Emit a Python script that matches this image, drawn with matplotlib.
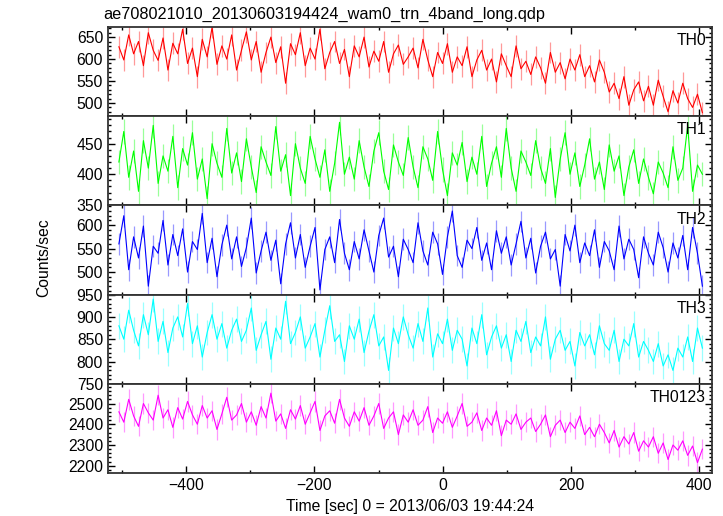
import numpy as np
import matplotlib
matplotlib.use("Agg")
import matplotlib.pyplot as plt
from matplotlib.ticker import MultipleLocator

plt.rcParams['font.family'] = ['Liberation Sans', 'DejaVu Sans']

# time bins (sec), 120 bins from -505 to 405
t = np.linspace(-505, 405, 120)

th0 = [628, 598, 655, 612, 640, 585, 660, 620, 597, 648, 575, 636,
       612, 668, 590, 625, 560, 645, 605, 672, 588, 630, 600, 655,
       575, 620, 662, 598, 640, 570, 615, 650, 592, 628, 545, 635,
       610, 660, 585, 625, 600, 668, 578, 615, 640, 590, 622, 560,
       630, 605, 650, 582, 618, 595, 640, 570, 612, 632, 588, 605,
       625, 580, 645, 598, 560, 615, 590, 635, 570, 605, 585, 628,
       560, 598, 620, 575, 600, 548, 612, 585, 560, 630, 578, 595,
       565, 605, 580, 545, 615, 570, 592, 555, 600, 575, 610, 560,
       585, 548, 598, 570, 525, 545, 510, 560, 495, 530, 548, 505,
       538, 495, 552, 515, 480, 528, 500, 545, 510, 490, 520, 478]

th1 = [420, 470, 395, 438, 372, 455, 410, 480, 385, 430, 405, 462,
       378, 442, 415, 468, 392, 425, 360, 450, 418, 395, 475, 402,
       435, 388, 458, 412, 370, 445, 420, 398, 478, 405, 432, 365,
       450, 410, 385, 462, 425, 395, 440, 372, 418, 485, 400, 428,
       392, 455, 412, 380, 438, 468, 405, 375, 448, 420, 398, 460,
       412, 378, 445, 425, 390, 470, 408, 365, 435, 415, 452, 388,
       428, 400, 462, 380, 418, 445, 395, 475, 410, 372, 438, 420,
       398, 455, 410, 385, 442, 362, 425, 468, 400, 435, 380, 415,
       458, 392, 420, 375, 448, 405, 430, 365, 412, 440, 385, 425,
       395, 368, 420, 402, 378, 445, 390, 410, 480, 372, 415, 400]

th2 = [560, 620, 505, 575, 530, 598, 470, 555, 540, 610, 515, 580,
       535, 592, 500, 565, 548, 625, 520, 572, 490, 558, 600, 528,
       575, 512, 552, 615, 498, 545, 585, 525, 568, 475, 560, 605,
       530, 580, 510, 555, 595, 462, 548, 575, 520, 612, 540, 505,
       565, 528, 590, 545, 500, 578, 615, 532, 555, 490, 570, 548,
       520, 605, 545, 515, 585, 560, 495, 575, 630, 535, 510, 568,
       550, 595, 525, 562, 505, 588, 540, 575, 515, 560, 608, 530,
       572, 498, 555, 585, 528, 548, 470, 580, 545, 600, 520, 562,
       535, 590, 510, 565, 545, 505, 598, 528, 570, 548, 488, 575,
       540, 515, 585, 552, 500, 562, 530, 578, 505, 595, 540, 470]

th3 = [880, 850, 915, 870, 835, 905, 860, 940, 845, 890, 820, 875,
       900, 855, 930, 840, 880, 810, 865, 905, 850, 885, 830, 870,
       895, 845, 870, 920, 825, 860, 890, 805, 875, 850, 935, 840,
       865, 900, 830, 855, 885, 810, 870, 925, 845, 860, 800, 880,
       850, 895, 820, 868, 905, 835, 855, 780, 875, 840, 900, 860,
       830, 885, 845, 920, 810, 862, 840, 895, 825, 870, 850, 790,
       875, 840, 905, 815, 855, 880, 830, 860, 800, 870, 845, 890,
       820, 855, 835, 900, 805, 850, 870, 825, 845, 790, 865, 835,
       860, 815, 880, 840, 825, 870, 800, 850, 835, 885, 810, 845,
       825, 800, 840, 790, 815, 780, 830, 810, 855, 800, 875, 830]

th0123 = [2460, 2410, 2520, 2440, 2390, 2500, 2455, 2420, 2540, 2430, 2470, 2385,
          2480, 2425, 2510, 2445, 2400, 2490, 2430, 2465, 2375, 2450, 2530, 2420,
          2445, 2500, 2410, 2460, 2395, 2485, 2430, 2550, 2415, 2450, 2380, 2470,
          2425, 2490, 2400, 2455, 2510, 2370, 2440, 2465, 2405, 2520, 2430, 2390,
          2460, 2415, 2480, 2395, 2440, 2500, 2380, 2430, 2460, 2350, 2445, 2410,
          2470, 2395, 2420, 2485, 2360, 2430, 2405, 2460, 2385, 2440, 2500, 2390,
          2410, 2455, 2370, 2430, 2395, 2465, 2345, 2420, 2400, 2450, 2375, 2410,
          2430, 2365, 2400, 2445, 2340, 2395, 2420, 2360, 2410, 2380, 2440, 2350,
          2385, 2340, 2400, 2360, 2310, 2370, 2290, 2340, 2305, 2360, 2270, 2320,
          2290, 2340, 2260, 2310, 2230, 2300, 2275, 2320, 2250, 2295, 2215, 2280]

# typical 1-sigma error bar per band (counts/sec)
errs = [25, 20, 23, 29, 49]

series = [th0, th1, th2, th3, th0123]
names = ["TH0", "TH1", "TH2", "TH3", "TH0123"]
colors = ["#ff0000", "#00ff00", "#0000ff", "#00ffff", "#ff00ff"]
ylims = [(470, 673), (349, 495), (452, 642), (750, 950), (2165, 2595)]
ymajor = [50, 50, 50, 50, 100]
yminor = [10, 10, 10, 10, 20]

fig = plt.figure(figsize=(7.23, 5.16), dpi=100)
left, right = 108 / 723, 712 / 723
top, bottom = 1 - 27 / 516, 1 - 473 / 516
h = (top - bottom) / 5

for i in range(5):
    ax = fig.add_axes([left, top - (i + 1) * h, right - left, h])
    ax.errorbar(t, series[i], yerr=errs[i], fmt='none', ecolor=colors[i],
                elinewidth=0.9, alpha=0.4)
    ax.plot(t, series[i], color=colors[i], lw=0.8)
    ax.set_xlim(-522, 420)
    ax.set_ylim(*ylims[i])
    ax.xaxis.set_major_locator(MultipleLocator(200))
    ax.xaxis.set_minor_locator(MultipleLocator(100))
    ax.yaxis.set_major_locator(MultipleLocator(ymajor[i]))
    ax.yaxis.set_minor_locator(MultipleLocator(yminor[i]))
    ax.tick_params(which='both', direction='in', top=True, right=True, labelsize=11.3, width=1)
    ax.tick_params(which='major', length=5)
    ax.tick_params(which='minor', length=2.5)
    for s in ax.spines.values():
        s.set_linewidth(1.3)
        s.set_color('#333333')
    if i < 4:
        ax.tick_params(labelbottom=False)
    ax.text(0.99, 0.93, names[i], transform=ax.transAxes, ha='right', va='top', fontsize=11.3)

fig.text(103 / 723, 1 - 14 / 516, "ae708021010_20130603194424_wam0_trn_4band_long.qdp",
         ha='left', va='center', fontsize=11.7)
fig.text(44 / 723, 0.5, "Counts/sec", rotation=90, ha='center', va='center', fontsize=11.3)
fig.text(0.5 + 0.5 * (left + right - 1), 1 - 507 / 516, "Time [sec] 0 = 2013/06/03 19:44:24",
         ha='center', va='center', fontsize=11.3)

fig.savefig("out.png", dpi=100)
